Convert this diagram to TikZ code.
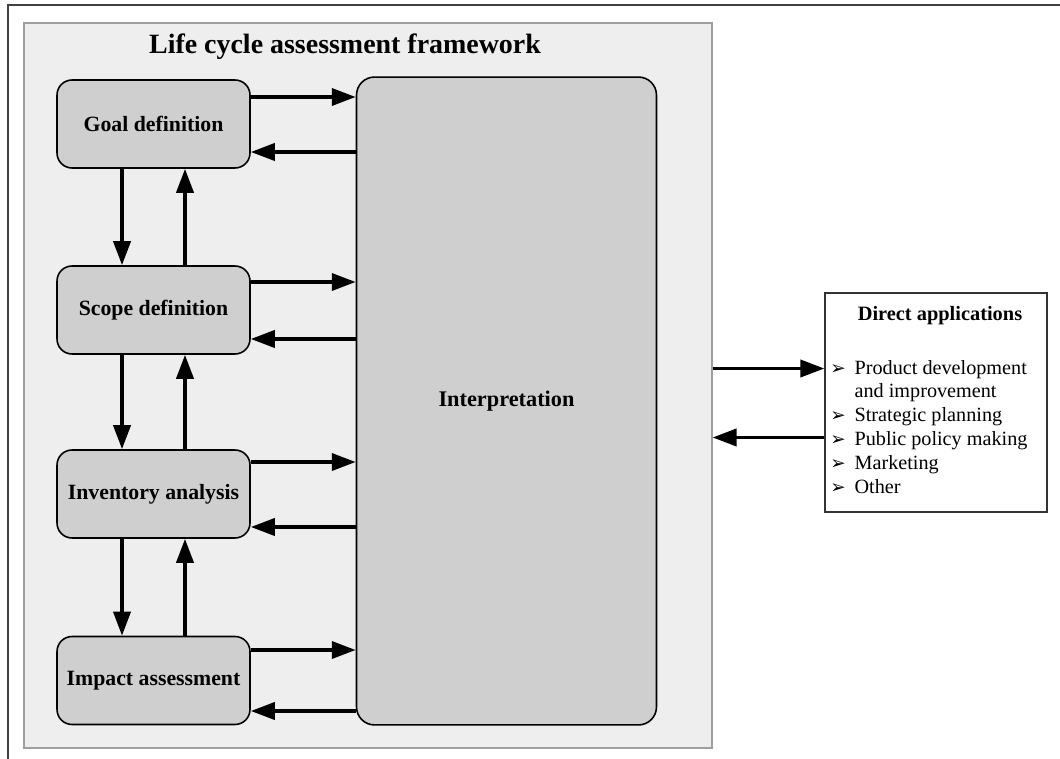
\documentclass[tikz,border=0pt]{standalone}
\usepackage{fontspec}
\setmainfont{Liberation Serif}
\newfontfamily\symfont{DejaVu Sans}
\usetikzlibrary{arrows.meta}

\begin{document}
\begin{tikzpicture}[
  x=0.02cm, y=-0.02cm,
  font=\fontsize{11.5}{13.6}\selectfont,
  stage/.style   = {draw, line width=0.9pt, rounded corners=0.3cm, fill=gray!38,
                    minimum width=3.86cm, minimum height=1.76cm, inner sep=0pt,
                    font=\fontsize{12.4}{14}\selectfont\bfseries},
  frame/.style   = {draw=gray!75, line width=0.7pt, fill=gray!13,
                    minimum width=13.76cm, minimum height=14.5cm, inner sep=0pt},
  interpbox/.style = {draw, line width=0.9pt, rounded corners=0.36cm, fill=gray!38,
                    minimum width=6cm, minimum height=12.96cm, inner sep=0pt,
                    font=\fontsize{12.7}{14}\selectfont\bfseries},
  appbox/.style  = {draw=black!80, line width=0.7pt, fill=white,
                    minimum width=4.44cm, minimum height=4.38cm, inner sep=0pt},
  arr/.style     = {-{Triangle[length=0.48cm, width=0.34cm]}, line width=2.1pt},
]
\useasboundingbox (0,0) rectangle (1060,759);

%%────────── outer border ───────────────────────────────────
\draw[black!75, line width=1pt] (8,759) -- (8,5) -- (1060,5);

%%────────── LCA framework ──────────────────────────────────
\node[frame] (frame) at (368,385.5) {};
\node[font=\fontsize{15.9}{18}\selectfont\bfseries] (title) at (345,47)
  {Life cycle assessment framework};

\node[stage] (goal)   at (153.5,124)   {Goal definition};
\node[stage] (scope)  at (153.5,310)   {Scope definition};
\node[stage] (inv)    at (153.5,494)   {Inventory analysis};
\node[stage] (impact) at (153.5,680.5) {Impact assessment};
\node[interpbox] (interp) at (506.5,401) {Interpretation};

% stages <-> interpretation
\draw[arr] ([yshift=0.54cm]goal.east)   -- ([yshift=0.54cm]goal.east -| interp.west);
\draw[arr] ([yshift=-0.56cm]goal.east -| interp.west) -- ([yshift=-0.56cm]goal.east);
\draw[arr] ([yshift=0.56cm]scope.east)  -- ([yshift=0.56cm]scope.east -| interp.west);
\draw[arr] ([yshift=-0.58cm]scope.east -| interp.west) -- ([yshift=-0.58cm]scope.east);
\draw[arr] ([yshift=0.64cm]inv.east)    -- ([yshift=0.64cm]inv.east -| interp.west);
\draw[arr] ([yshift=-0.66cm]inv.east -| interp.west) -- ([yshift=-0.66cm]inv.east);
\draw[arr] ([yshift=0.61cm]impact.east) -- ([yshift=0.61cm]impact.east -| interp.west);
\draw[arr] ([yshift=-0.61cm]impact.east -| interp.west) -- ([yshift=-0.61cm]impact.east);

% stage to stage
\draw[arr] ([xshift=-0.63cm]goal.south)  -- ([xshift=-0.63cm]scope.north);
\draw[arr] ([xshift=0.63cm]scope.north)  -- ([xshift=0.63cm]goal.south);
\draw[arr] ([xshift=-0.63cm]scope.south) -- ([xshift=-0.63cm]inv.north);
\draw[arr] ([xshift=0.63cm]inv.north)    -- ([xshift=0.63cm]scope.south);
\draw[arr] ([xshift=-0.63cm]inv.south)   -- ([xshift=-0.63cm]impact.north);
\draw[arr] ([xshift=0.63cm]impact.north) -- ([xshift=0.63cm]inv.south);

%%────────── Direct applications ────────────────────────────
\node[appbox] (direct) at (936,402.5) {};
\node[font=\fontsize{11.6}{13}\selectfont\bfseries] (apptitle) at (940,316)
  {Direct applications};
\node[anchor=north west, inner sep=0pt] (applist) at (830,357) {%
  \begin{tabular}{@{}l@{\hspace{5pt}}l@{}}
    {\symfont\fontsize{10.5}{13.6}\selectfont ➢} & Product development\\
      & and improvement\\
    {\symfont\fontsize{10.5}{13.6}\selectfont ➢} & Strategic planning\\
    {\symfont\fontsize{10.5}{13.6}\selectfont ➢} & Public policy making\\
    {\symfont\fontsize{10.5}{13.6}\selectfont ➢} & Marketing\\
    {\symfont\fontsize{10.5}{13.6}\selectfont ➢} & Other
  \end{tabular}};

\draw[arr] ([yshift=0.68cm]direct.west -| frame.east) -- ([yshift=0.68cm]direct.west);
\draw[arr] ([yshift=-0.70cm]direct.west) -- ([yshift=-0.70cm]direct.west -| frame.east);

\end{tikzpicture}
\end{document}
